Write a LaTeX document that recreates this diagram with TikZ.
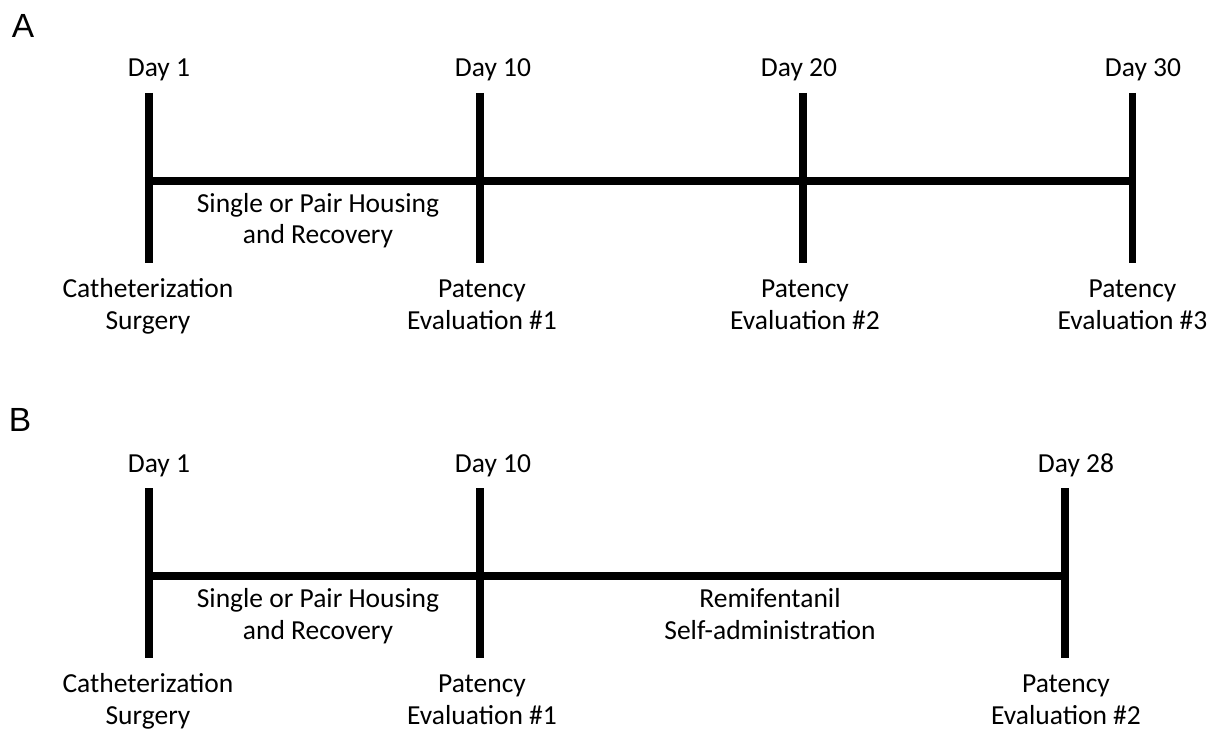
\documentclass[tikz,border=0pt]{standalone}
\usepackage{fontspec}
\setmainfont{Carlito}
\newfontfamily\panelfont{Liberation Sans}
\tikzset{
  txt/.style={anchor=base, inner sep=0pt, font=\fontsize{27.5}{33}\selectfont},
  panel/.style={anchor=center, inner sep=0pt, font=\panelfont\fontsize{33.5}{40}\selectfont},
  bar/.style={line width=7.5pt, line cap=butt}
}
\begin{document}
\begin{tikzpicture}[x=1pt,y=-1pt]
\useasboundingbox (0,0) rectangle (1211,730);
% panel labels
\node[panel] (pA) at (23,25.5) {A};
\node[panel] (pB) at (20,420) {B};
% ---------- Panel A ----------
\coordinate (a1t) at (149,93);   \coordinate (a1b) at (149,263);
\coordinate (a2t) at (480,93);   \coordinate (a2b) at (480,263);
\coordinate (a3t) at (803,93);   \coordinate (a3b) at (803,263);
\coordinate (a4t) at (1132.5,93);\coordinate (a4b) at (1132.5,263);
\coordinate (ah1) at (149,181);  \coordinate (ah4) at (1132.5,181);
\draw[bar] (a1t) -- (a1b);
\draw[bar] (a2t) -- (a2b);
\draw[bar] (a3t) -- (a3b);
\draw[bar] (a4t) -- (a4b);
\draw[bar] (ah1) -- (ah4);
\node[txt] (ad1) at (159,77) {Day 1};
\node[txt] (ad2) at (493,77) {Day 10};
\node[txt] (ad3) at (799,77) {Day 20};
\node[txt] (ad4) at (1143,77) {Day 30};
\node[txt] (ah1a) at (318,212.5) {Single or Pair Housing};
\node[txt] (ah1b) at (318,244) {and Recovery};
\node[txt] (al1a) at (148,298) {Catheterization};
\node[txt] (al1b) at (148,330) {Surgery};
\node[txt] (al2a) at (482,298) {Patency};
\node[txt] (al2b) at (482,330) {Evaluation \#1};
\node[txt] (al3a) at (805,298) {Patency};
\node[txt] (al3b) at (805,330) {Evaluation \#2};
\node[txt] (al4a) at (1132.5,298) {Patency};
\node[txt] (al4b) at (1132.5,330) {Evaluation \#3};
% ---------- Panel B ----------
\coordinate (b1t) at (149,488);  \coordinate (b1b) at (149,658);
\coordinate (b2t) at (480,488);  \coordinate (b2b) at (480,658);
\coordinate (b3t) at (1065,488); \coordinate (b3b) at (1065,658);
\coordinate (bh1) at (149,576);  \coordinate (bh3) at (1065,576);
\draw[bar] (b1t) -- (b1b);
\draw[bar] (b2t) -- (b2b);
\draw[bar] (b3t) -- (b3b);
\draw[bar] (bh1) -- (bh3);
\node[txt] (bd1) at (159,472) {Day 1};
\node[txt] (bd2) at (493,472) {Day 10};
\node[txt] (bd3) at (1076,472) {Day 28};
\node[txt] (bh1a) at (318,607.5) {Single or Pair Housing};
\node[txt] (bh1b) at (318,639) {and Recovery};
\node[txt] (bh2a) at (770,607.5) {Remifentanil};
\node[txt] (bh2b) at (770,639) {Self-administration};
\node[txt] (bl1a) at (148,692) {Catheterization};
\node[txt] (bl1b) at (148,724) {Surgery};
\node[txt] (bl2a) at (482,692) {Patency};
\node[txt] (bl2b) at (482,724) {Evaluation \#1};
\node[txt] (bl3a) at (1066,692) {Patency};
\node[txt] (bl3b) at (1066,724) {Evaluation \#2};
\end{tikzpicture}
\end{document}
